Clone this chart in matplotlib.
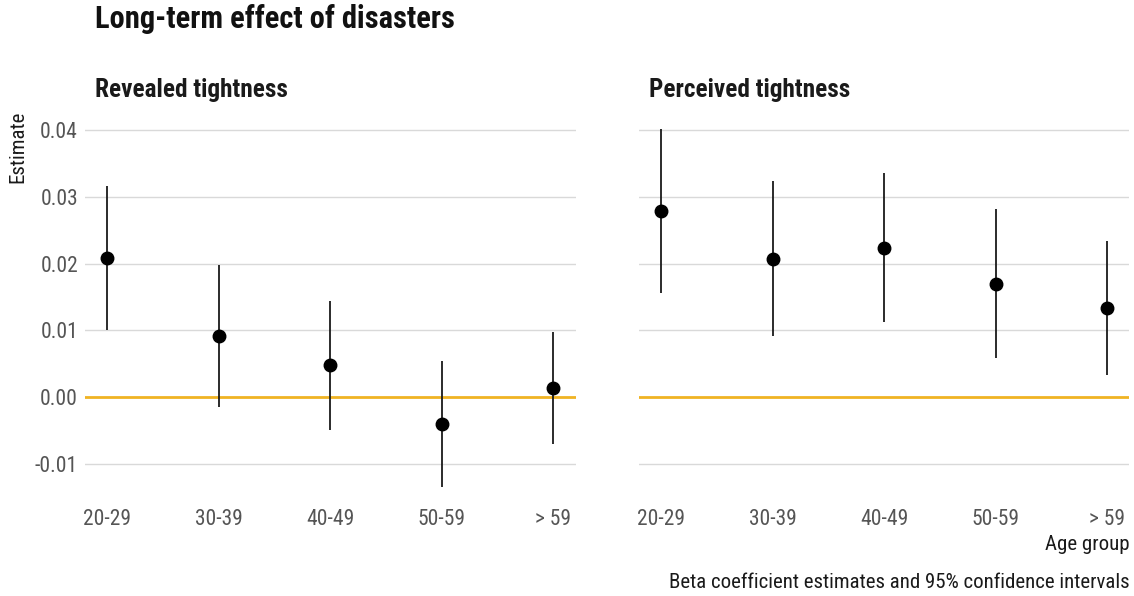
import matplotlib
matplotlib.use("Agg")
import matplotlib.pyplot as plt

# ---- data ----
age_groups = ["20-29", "30-39", "40-49", "50-59", "> 59"]

revealed_est = [0.0208, 0.0091, 0.0048, -0.0040, 0.0013]
revealed_lo = [0.0100, -0.0015, -0.0049, -0.0135, -0.0070]
revealed_hi = [0.0316, 0.0198, 0.0144, 0.0054, 0.0097]

perceived_est = [0.0279, 0.0207, 0.0223, 0.0169, 0.0133]
perceived_lo = [0.0156, 0.0092, 0.0112, 0.0058, 0.0033]
perceived_hi = [0.0401, 0.0324, 0.0336, 0.0282, 0.0234]

yticks = [-0.01, 0.00, 0.01, 0.02, 0.03, 0.04]

FONT = ["Roboto Condensed", "Liberation Sans Narrow", "Roboto", "DejaVu Sans"]
plt.rcParams["font.family"] = FONT
GRID = "#d9d9d9"
ZERO = "#f0b323"
TICK = "#555555"

W, H = 1134, 596
fig = plt.figure(figsize=(W / 100, H / 100), dpi=100)

ylo, yhi = -0.0145, 0.0405
bottom = 1 - 493.8 / H
height = (493.8 - 126.7) / H
panels = [
    ("Revealed tightness", revealed_est, revealed_lo, revealed_hi, 85 / W, True),
    ("Perceived tightness", perceived_est, perceived_lo, perceived_hi, 638.7 / W, False),
]

for title, est, lo, hi, left, show_y in panels:
    ax = fig.add_axes([left, bottom, 490.6 / W, height])
    x = list(range(len(age_groups)))
    for v in yticks:
        if v == 0:
            continue
        ax.axhline(v, color=GRID, lw=1.0, zorder=1)
    ax.axhline(0, color=ZERO, lw=2.0, zorder=2)
    ax.vlines(x, lo, hi, color="#1a1a1a", lw=1.3, zorder=3)
    ax.plot(x, est, "o", color="black", ms=9, zorder=4)
    ax.set_xlim(-0.2, 4.2)
    ax.set_ylim(ylo, yhi)
    ax.set_xticks(x)
    ax.set_xticklabels(age_groups)
    ax.set_yticks(yticks)
    ax.set_yticklabels([f"{v:.2f}" for v in yticks] if show_y else [])
    ax.tick_params(length=0, labelsize=15.5, colors=TICK, pad=5)
    ax.tick_params(axis="x", pad=11)
    for s in ax.spines.values():
        s.set_visible(False)
    ax.text(left + 10 / W, 1 - 90 / H, title, transform=fig.transFigure,
            ha="left", va="center", fontsize=18.2, fontweight="bold", color="#1a1a1a")
    ax.patch.set_alpha(0)

fig.text(95 / W, 1 - 19 / H, "Long-term effect of disasters", ha="left", va="center",
         fontsize=22, fontweight="bold", color="#111111")
fig.text(18 / W, 1 - 147 / H, "Estimate", rotation=90, ha="center", va="center",
         fontsize=15, color="#1a1a1a")
fig.text(1130 / W, 1 - 545 / H, "Age group", ha="right", va="center",
         fontsize=15, color="#1a1a1a")
fig.text(1130 / W, 1 - 582 / H, "Beta coefficient estimates and 95% confidence intervals",
         ha="right", va="center", fontsize=15, color="#1a1a1a")

fig.savefig("out.png", dpi=100)
